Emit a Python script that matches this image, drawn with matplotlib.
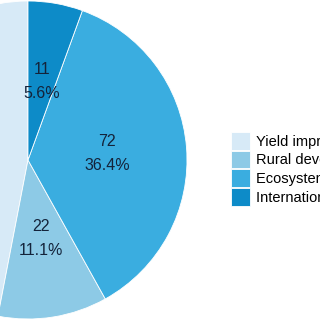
import matplotlib.pyplot as plt

labels = ["Yield improvement", "Rural development", "Ecosystem services", "International cooperation"]
counts = [93, 22, 72, 11]
colors = ["#d7eaf7", "#8dcae6", "#3aade0", "#0d8bc8"]

plt.rcParams['font.family'] = ['Liberation Sans', 'DejaVu Sans']

fig = plt.figure(figsize=(3.2, 3.2), dpi=100)
ax = fig.add_axes([0, 0, 1, 1])

total = sum(counts)
wedges, texts = ax.pie(counts, colors=colors, startangle=90, radius=1.0,
                       labels=[f"{c}\n{c / total * 100:.1f}%" for c in counts],
                       labeldistance=0.5,
                       wedgeprops=dict(edgecolor="white", linewidth=0.6),
                       textprops=dict(fontsize=11.5, color="#14233a", ha="center",
                                      va="center", linespacing=1.75))

r = 159.0
ax.set_xlim(-28 / r, 292 / r)
ax.set_ylim(-160 / r, 160 / r)
ax.set_aspect("auto")
ax.axis("off")

fig.legend(wedges, labels, loc="upper left", bbox_to_anchor=(228 / 320, 1 - 129 / 320),
           frameon=False, fontsize=10.5, handlelength=1.3, handleheight=1.5,
           labelspacing=0.06, handletextpad=0.45, borderpad=0.2, borderaxespad=0)

fig.savefig("out.png", dpi=100)
